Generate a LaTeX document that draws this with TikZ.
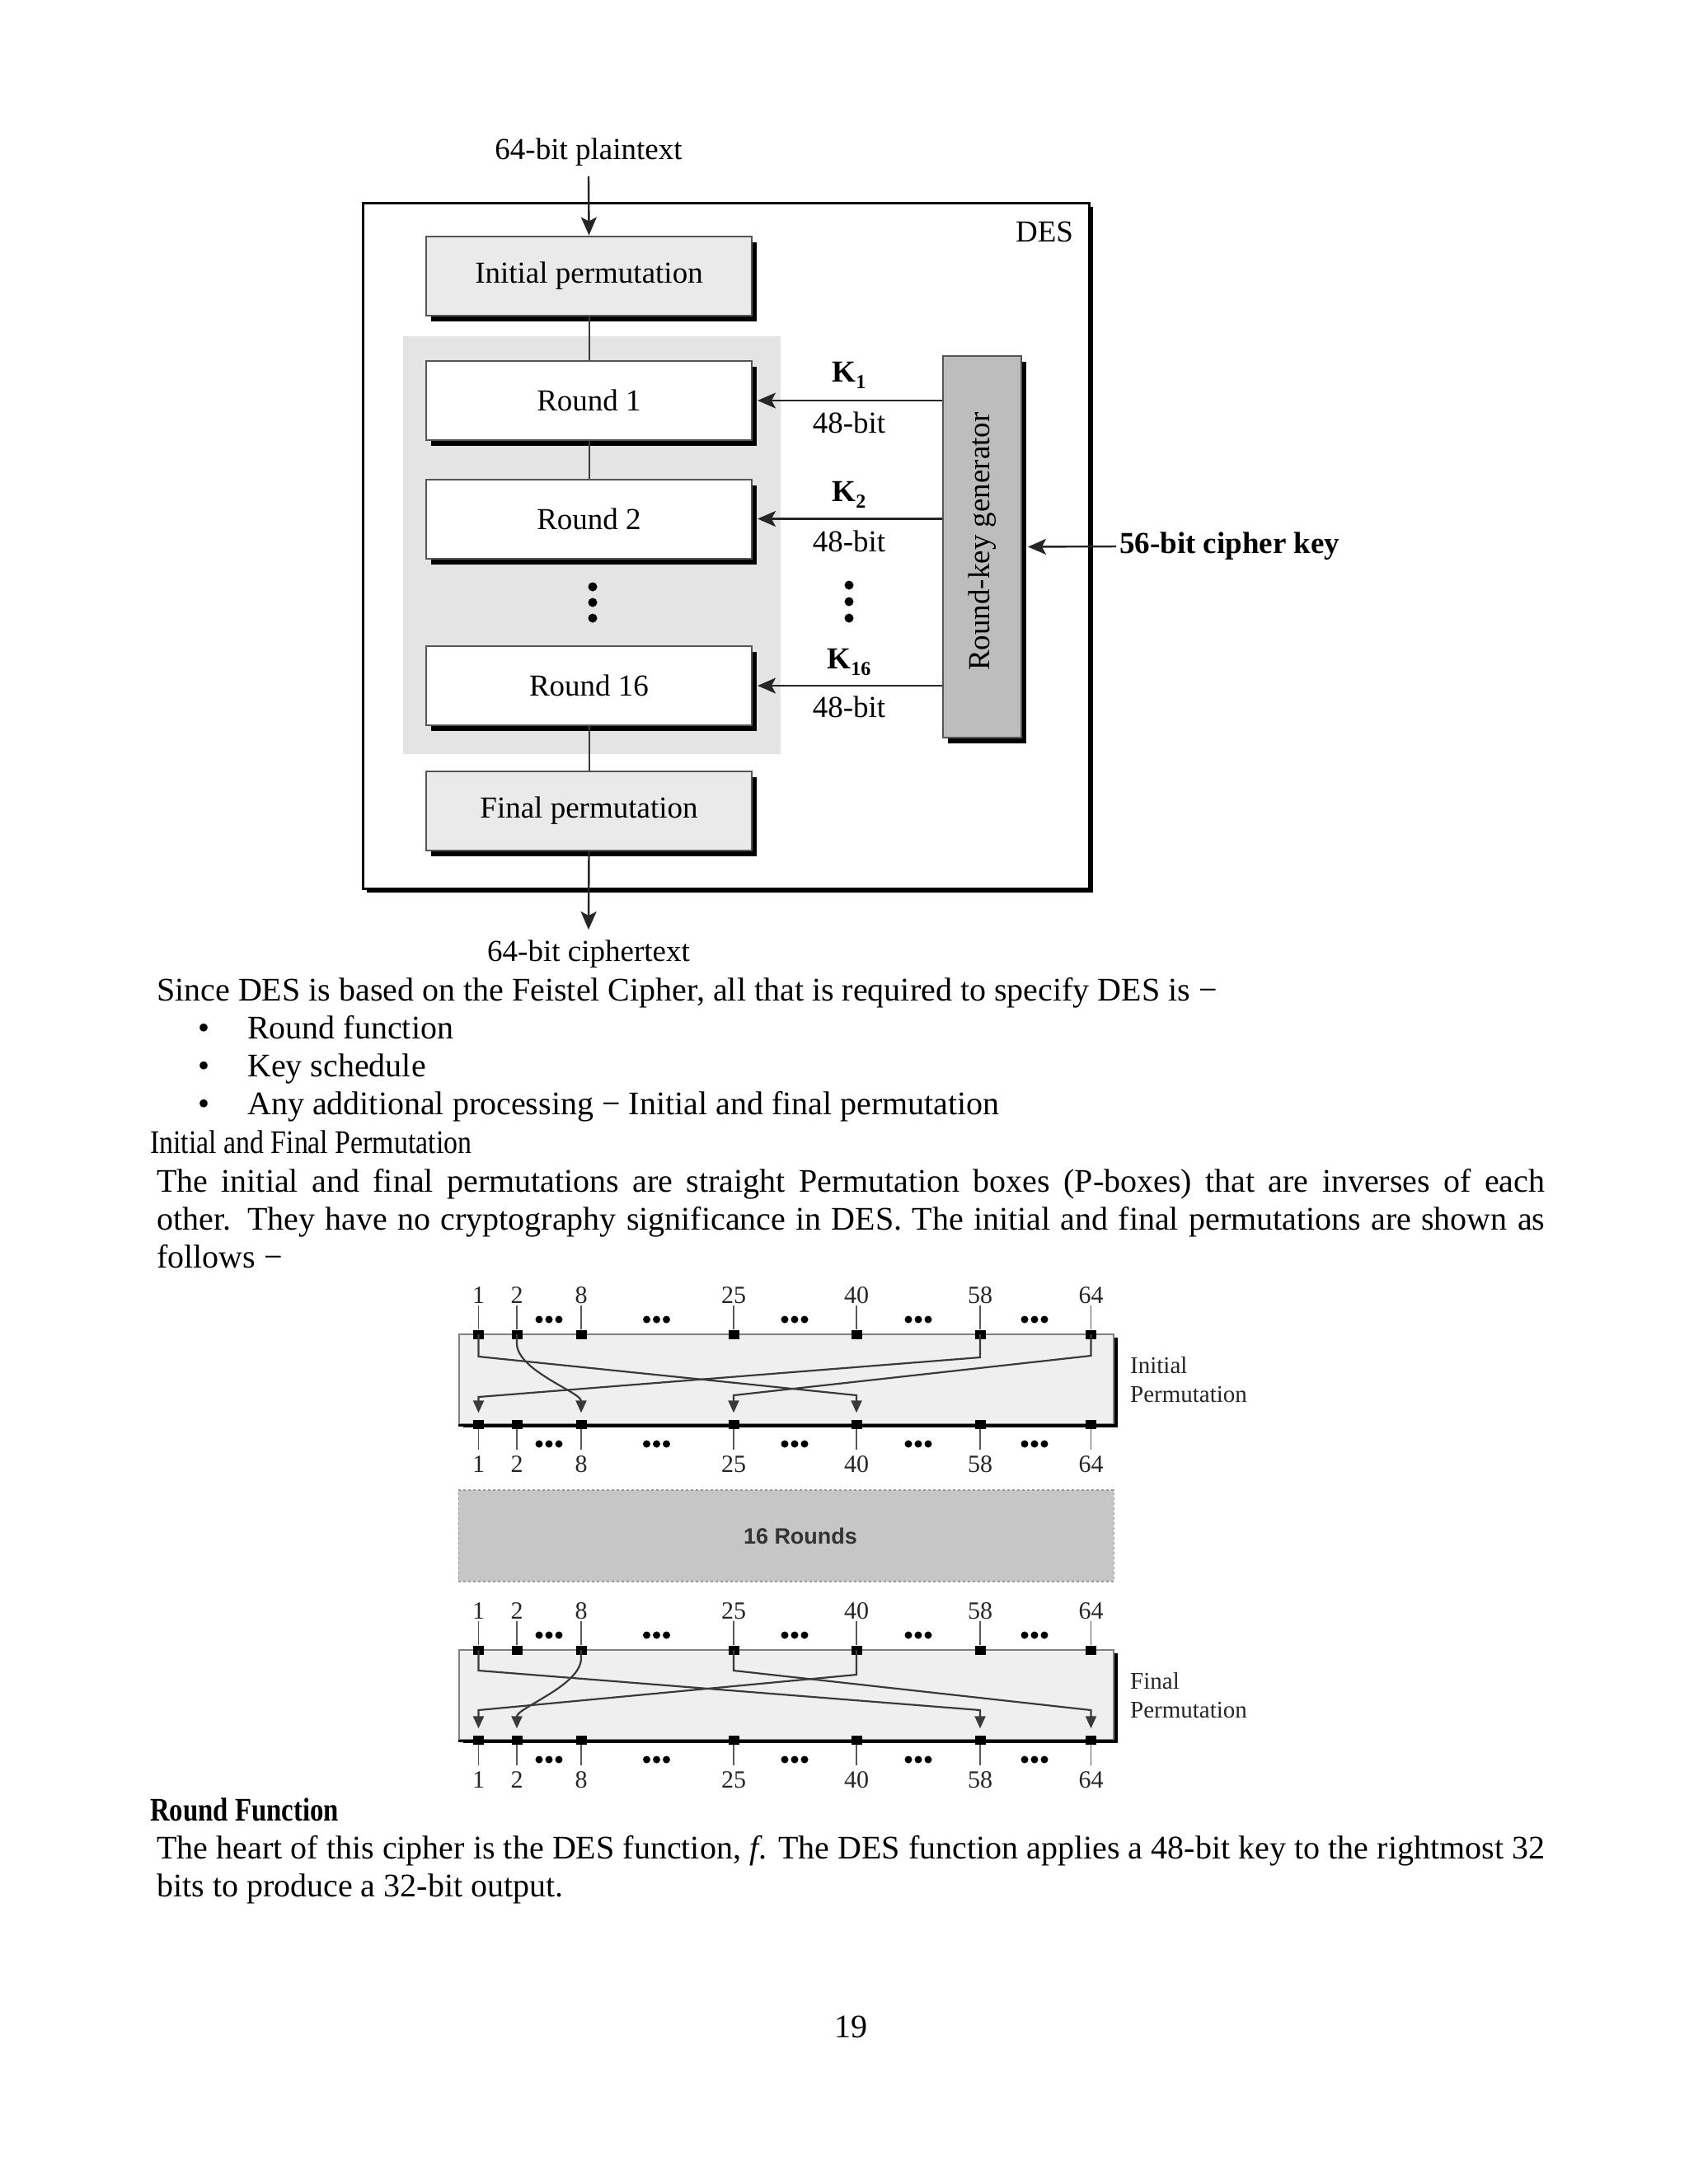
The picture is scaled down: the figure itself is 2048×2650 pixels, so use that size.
\documentclass[tikz,border=0pt]{standalone}
\usepackage{fontspec}
\setmainfont{Liberation Serif}
\newfontfamily\sansf{Liberation Sans}
\usetikzlibrary{arrows.meta,shadows,calc}
\definecolor{ipfill}{HTML}{EAEAEA}
\definecolor{regfill}{HTML}{E4E4E4}
\definecolor{keyfill}{HTML}{BDBDBD}
\definecolor{permfill}{HTML}{EFEFEF}
\definecolor{rndfill}{HTML}{C6C6C6}
\definecolor{edge}{HTML}{555555}
\definecolor{wire}{HTML}{3A3A3A}
\newcommand\keylbl[1]{\textbf{K}\raisebox{-8pt}{\fontsize{24}{24}\selectfont\bfseries #1}}
\newcommand\tridots[2]{\foreach \dx in {-12,0,12}{\fill (#1+\dx,#2) circle (4.5pt);}}
\begin{document}
\begin{tikzpicture}[x=1pt,y=-1pt,
  dfont/.style={font=\fontsize{37}{42}\selectfont},
  lbl/.style={dfont, inner sep=0pt},
  shad/.style={drop shadow={shadow xshift=6pt,shadow yshift=-7pt,fill=black,opacity=1}},
  stage/.style={draw=edge, line width=2pt, minimum width=395pt, minimum height=96pt, shad, dfont, inner sep=0pt},
  outer/.style={draw=black, line width=3pt, fill=white, minimum width=881pt, minimum height=832pt,
    drop shadow={shadow xshift=5pt,shadow yshift=-5pt,fill=black,opacity=1}},
  keyg/.style={draw=edge, line width=2pt, fill=keyfill, minimum width=95pt, minimum height=463pt, shad},
  arr/.style={draw=black!85, line width=2.4pt, -{Stealth[length=22pt,width=19pt,inset=5pt]}},
  link/.style={draw=wire, line width=2pt},
  body/.style={font=\fontsize{40}{46}\selectfont, inner sep=0pt, anchor=base west},
  plab/.style={font=\fontsize{30}{30}\selectfont, inner sep=0pt, text=black!85},
  sq/.style={fill=black, minimum width=13pt, minimum height=11pt, inner sep=0pt},
  tk/.style={draw=black!65, line width=1.6pt},
  pw/.style={draw=wire, line width=2.2pt, -{Triangle[length=15pt,width=13pt]}},
  pbox/.style={fill=permfill, draw=black!50, line width=2.5pt, minimum width=794pt, minimum height=109pt, inner sep=0pt,
    drop shadow={shadow xshift=5pt,shadow yshift=-4pt,fill=black,opacity=1}},
  side/.style={font=\fontsize{29}{35}\selectfont, inner sep=0pt, anchor=west, align=left, text=black!85}
]
\useasboundingbox (0,0) rectangle (2048,2650);
\fill[white] (0,0) rectangle (2048,2650);

% ---------------- DES block diagram ----------------
\node[outer] (des) at (880.5,662) {};
\node[lbl] (deslbl) at (1267,281) {DES};
\node[fill=regfill, minimum width=458pt, minimum height=507pt, inner sep=0pt] (rbg) at (718,661.5) {};
\node[stage, fill=ipfill] (ip) at (714.5,334.5) {Initial permutation};
\node[stage, fill=white] (r1) at (714.5,486) {Round 1};
\node[stage, fill=white] (r2) at (714.5,629.5) {Round 2};
\node[stage, fill=white] (r16) at (714.5,832) {Round 16};
\node[stage, fill=ipfill] (fp) at (714.5,984) {Final permutation};
\node[keyg] (kg) at (1191.5,663.5) {};
\node[lbl, rotate=90] (kgt) at (1192,657) {Round-key generator};

\node[lbl] (pt) at (714,185) {64-bit plaintext};
\node[lbl] (ct) at (714,1158) {64-bit ciphertext};
\draw[arr] ([yshift=-12pt]pt.south) -- (ip.north);
\draw[arr] (fp.south) -- ([yshift=13pt]ct.north);

\draw[link] (ip.south) -- (r1.north);
\draw[link] (r1.south) -- (r2.north);
\draw[link] (r16.south) -- (fp.north);
\foreach \yy in {712,731,750} {\fill (719,\yy) circle (5.5pt);}
\foreach \yy in {710,730,750} {\fill (1030,\yy) circle (5.5pt);}

\draw[arr] (kg.west |- r1.east) -- ([xshift=6pt]r1.east);
\draw[arr] (kg.west |- r2.east) -- ([xshift=6pt]r2.east);
\draw[arr] (kg.west |- r16.east) -- ([xshift=6pt]r16.east);
\node[lbl] (k1) at (1030,455) {\keylbl{1}};
\node[lbl] (w1) at (1030,513) {48-bit};
\node[lbl] (k2) at (1030,600) {\keylbl{2}};
\node[lbl] (w2) at (1030,657) {48-bit};
\node[lbl] (k16) at (1030,803) {\keylbl{16}};
\node[lbl] (w16) at (1030,858) {48-bit};

\node[lbl, anchor=west, font=\fontsize{37}{40}\selectfont\bfseries] (ck) at (1358,663) {56-bit cipher key};
\draw[arr, shorten <=4pt] (ck.west) -- ([xshift=7pt]kg.east);

% ---------------- body text ----------------
\node[body] (t1) at (190,1214) {Since DES is based on the Feistel Cipher, all that is required to specify DES is −};
\node[body, anchor=base] (bu1) at (247,1260) {•};
\node[body] (l1) at (300,1260) {Round function};
\node[body, anchor=base] (bu2) at (247,1306) {•};
\node[body] (l2) at (300,1306) {Key schedule};
\node[body, anchor=base] (bu3) at (247,1352) {•};
\node[body] (l3) at (300,1352) {Any additional processing − Initial and final permutation};
\node[body] (h1) at (182,1399) {\scalebox{0.846}[1]{Initial and Final Permutation}};
\node[body] (p1) at (190,1446) {\makebox[1684pt][s]{The initial and final permutations are straight Permutation boxes (P-boxes) that are inverses of each}};
\node[body] (p2) at (190,1492) {\makebox[1684pt][s]{other. They have no cryptography significance in DES. The initial and final permutations are shown as}};
\node[body] (p3) at (190,1538) {follows −};
\node[body] (h2) at (182,2209) {\bfseries\scalebox{0.82}[1]{Round Function}};
\node[body] (q1) at (190,2255) {\makebox[1684pt][s]{The heart of this cipher is the DES function, \textit{f}. The DES function applies a 48-bit key to the rightmost 32}};
\node[body] (q2) at (190,2301) {bits to produce a 32-bit output.};
\node[body, anchor=base] (pg) at (1032,2472) {19};

% ---------------- Initial permutation ----------------
\node[pbox] (ipb) at (954,1673.5) {};
\draw[line width=3pt] (ipb.south west) -- (ipb.south east);
\node[side] (iplab) at (1371,1674.5) {Initial\\Permutation};
\foreach \n/\x in {1/580.5,2/627,8/705,25/890,40/1039,58/1189,64/1323.5}{
  \node[plab] (ita\n) at (\x,1572) {\n};
  \node[plab] (iba\n) at (\x,1777) {\n};
  \node[sq] (its\n) at (\x,1619) {};
  \node[sq] (ibs\n) at (\x,1728) {};
  \draw[tk, shorten <=2pt] (ita\n.south) -- (its\n.north);
  \draw[tk, shorten >=8pt] (ibs\n.south) -- (iba\n.north);
}
\foreach \x in {666,796.5,964,1114,1255}{\tridots{\x}{1601}\tridots{\x}{1752}}
\draw[pw, shorten >=8pt] (its1.center) -- (580.5,1646) -- (1039,1693) -- (ibs40.north);
\draw[pw, shorten >=8pt] (its58.center) -- (1189,1647) -- (580.5,1695) -- (ibs1.north);
\draw[pw, shorten >=8pt] (its64.center) -- (1323.5,1645) -- (890,1693) -- (ibs25.north);
\draw[pw, shorten >=8pt] (its2.center) -- (627,1630) to[out=-90,in=90,looseness=0.7] (ibs8.north);

% ---------------- 16 rounds ----------------
\node[fill=rndfill, draw=black!40, dashed, line width=1.2pt, minimum width=795pt, minimum height=111pt, inner sep=0pt] (rnds) at (953.75,1863.5) {};
\node[font=\sansf\bfseries\fontsize{27}{30}\selectfont, inner sep=0pt, text=black!80] (rndl) at (971,1864) {16 Rounds};

% ---------------- Final permutation ----------------
\node[pbox] (fpb) at (954,2056.5) {};
\draw[line width=3pt] (fpb.south west) -- (fpb.south east);
\node[side] (fplab) at (1371,2057.5) {Final\\Permutation};
\foreach \n/\x in {1/580.5,2/627,8/705,25/890,40/1039,58/1189,64/1323.5}{
  \node[plab] (fta\n) at (\x,1955) {\n};
  \node[plab] (fba\n) at (\x,2160) {\n};
  \node[sq] (fts\n) at (\x,2002) {};
  \node[sq] (fbs\n) at (\x,2111) {};
  \draw[tk, shorten <=2pt] (fta\n.south) -- (fts\n.north);
  \draw[tk, shorten >=8pt] (fbs\n.south) -- (fba\n.north);
}
\foreach \x in {666,796.5,964,1114,1255}{\tridots{\x}{1984}\tridots{\x}{2135}}
\draw[pw, shorten >=8pt] (fts1.center) -- (580.5,2027) -- (1189,2075) -- (fbs58.north);
\draw[pw, shorten >=8pt] (fts40.center) -- (1039,2032) -- (580.5,2075) -- (fbs1.north);
\draw[pw, shorten >=8pt] (fts25.center) -- (890,2027) -- (1323.5,2075) -- (fbs64.north);
\draw[pw, shorten >=8pt] (fts8.center) -- (705,2012) to[out=-90,in=90,looseness=0.7] (fbs2.north);
\end{tikzpicture}
\end{document}
